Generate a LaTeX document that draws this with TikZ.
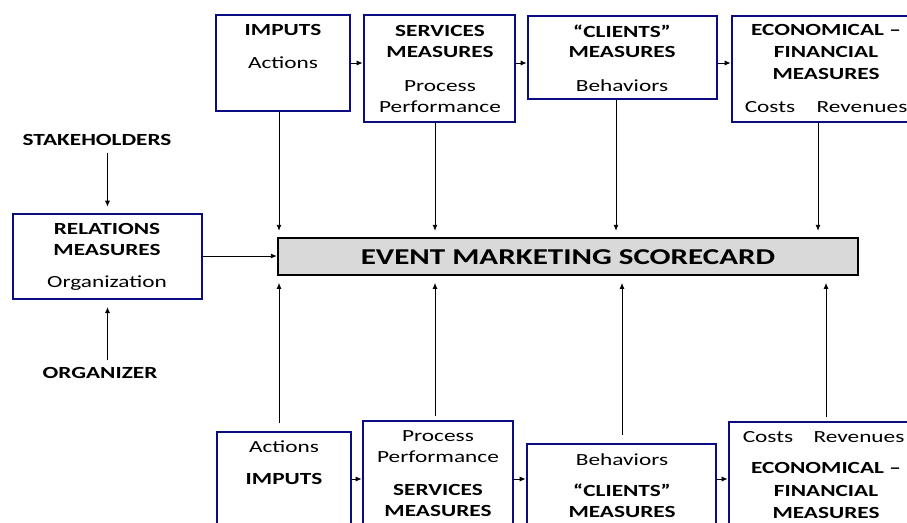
\documentclass[tikz,border=0pt]{standalone}
\usepackage{fontspec}
\setmainfont{Carlito}[FakeStretch=1.37]
\usetikzlibrary{arrows.meta,fit}
\definecolor{navy}{RGB}{12,12,130}
\definecolor{scgray}{RGB}{217,217,217}
\begin{document}
\begin{tikzpicture}[x=0.75pt,y=-0.75pt,
  bluebox/.style={draw=navy,line width=2pt,inner sep=0pt,fill=white},
  scbox/.style={draw=black,line width=1.8pt,inner sep=0pt,fill=scgray},
  txt/.style={inner sep=0pt,font=\fontsize{12.75}{15}\selectfont},
  btxt/.style={inner sep=0pt,font=\fontsize{12.75}{15}\selectfont\bfseries},
  arr/.style={-{Latex[length=4.5pt,width=3.8pt]},line width=0.7pt,draw=black}]
\path[use as bounding box] (0,0) rectangle (907,522);
\fill[white] (0,0) rectangle (907,522);
\clip (0,0) rectangle (907,522);

% x positions of vertical connectors
\coordinate (xa) at (279,0);
\coordinate (xb) at (435,0);
\coordinate (xc) at (616,0);
\coordinate (xd) at (818,0);
\coordinate (xe) at (622,0);
\coordinate (xf) at (826,0);
\coordinate (ytop) at (0,63);
\coordinate (ybot) at (0,479);
\coordinate (yrel) at (0,256);

% top boxes
\node[bluebox,fit={(216,15) (350,111)}] (t1) {};
\node[bluebox,fit={(364,15) (515,122)}] (t2) {};
\node[bluebox,fit={(528,16) (717,99)}] (t3) {};
\node[bluebox,fit={(732,16) (940,122)}] (t4) {};
% left box
\node[bluebox,fit={(13,214) (202,299)}] (rel) {};
% scorecard
\node[scbox,fit={(278,238) (858,275)}] (score) {};
% bottom boxes
\node[bluebox,fit={(217,432) (351,545)}] (b1) {};
\node[bluebox,fit={(363,421) (513,545)}] (b2) {};
\node[bluebox,fit={(527,444) (716,545)}] (b3) {};
\node[bluebox,fit={(729,422) (940,545)}] (b4) {};

% texts top
\node[btxt] (t1a) at (283,30) {IMPUTS};
\node[txt]  (t1b) at (283,63) {Actions};
\node[btxt] (t2a) at (440,31) {SERVICES};
\node[btxt] (t2b) at (440,52) {MEASURES};
\node[txt]  (t2c) at (440,86) {Process};
\node[txt]  (t2d) at (440,107) {Performance};
\node[btxt] (t3a) at (622,31) {“CLIENTS”};
\node[btxt] (t3b) at (622,52) {MEASURES};
\node[txt]  (t3c) at (622,86) {Behaviors};
\node[btxt] (t4a) at (826,30) {ECONOMICAL –};
\node[btxt] (t4b) at (826,52) {FINANCIAL};
\node[btxt] (t4c) at (826,74) {MEASURES};
\node[txt]  (t4d) at (770,107) {Costs};
\node[txt]  (t4e) at (862,107) {Revenues};

% left texts
\node[btxt] (stake) at (97,140) {STAKEHOLDERS};
\node[btxt] (rela) at (107,229) {RELATIONS};
\node[btxt] (relb) at (107,250) {MEASURES};
\node[txt]  (relc) at (107,283) {Organization};
\node[btxt] (org) at (100,373) {ORGANIZER};

% scorecard text
\node[inner sep=0pt,font=\fontsize{17}{20}\selectfont\bfseries] (sct) at (568,257) {EVENT MARKETING SCORECARD};

% bottom texts
\node[txt]  (b1a) at (284,447) {Actions};
\node[btxt] (b1b) at (284,479) {IMPUTS};
\node[txt]  (b2a) at (438,436) {Process};
\node[txt]  (b2b) at (438,457) {Performance};
\node[btxt] (b2c) at (438,490) {SERVICES};
\node[btxt] (b2d) at (438,511) {MEASURES};
\node[txt]  (b3a) at (622,460) {Behaviors};
\node[btxt] (b3b) at (622,490) {“CLIENTS”};
\node[btxt] (b3c) at (622,512) {MEASURES};
\node[txt]  (b4a) at (768,437) {Costs};
\node[txt]  (b4b) at (859,437) {Revenues};
\node[btxt] (b4c) at (826,468) {ECONOMICAL –};
\node[btxt] (b4d) at (826,491) {FINANCIAL};
\node[btxt] (b4e) at (826,513) {MEASURES};

% horizontal connectors top
\draw[arr] (t1.east |- ytop) -- (t2.west |- ytop);
\draw[arr] (t2.east |- ytop) -- (t3.west |- ytop);
\draw[arr] (t3.east |- ytop) -- (t4.west |- ytop);
% horizontal connectors bottom
\draw[arr] (b1.east |- ybot) -- (b2.west |- ybot);
\draw[arr] (b2.east |- ybot) -- (b3.west |- ybot);
\draw[arr] (b3.east |- ybot) -- (b4.west |- ybot);

% vertical connectors top -> scorecard
\draw[arr,shorten >=4.5pt] (t1.south -| xa) -- (score.north -| xa);
\draw[arr,shorten >=4.5pt] (t2.south -| xb) -- (score.north -| xb);
\draw[arr,shorten >=4.5pt] (t3.south -| xc) -- (score.north -| xc);
\draw[arr,shorten >=4.5pt] (t4.south -| xd) -- (score.north -| xd);
% vertical connectors bottom -> scorecard
\draw[arr,shorten <=6pt,shorten >=5pt] (b1.north -| xa) -- (score.south -| xa);
\draw[arr,shorten <=2.5pt,shorten >=5pt] (b2.north -| xb) -- (score.south -| xb);
\draw[arr,shorten <=6pt,shorten >=5pt] (b3.north -| xe) -- (score.south -| xe);
\draw[arr,shorten <=3pt,shorten >=5pt] (b4.north -| xf) -- (score.south -| xf);

% relations
\draw[arr] (rel.east |- yrel) -- (score.west |- yrel);
\draw[arr,shorten <=5pt,shorten >=4.5pt] (stake.south -| rel.north) -- (rel.north);
\draw[arr,shorten <=5pt,shorten >=5pt] (org.north -| rel.south) -- (rel.south);
\end{tikzpicture}
\end{document}
